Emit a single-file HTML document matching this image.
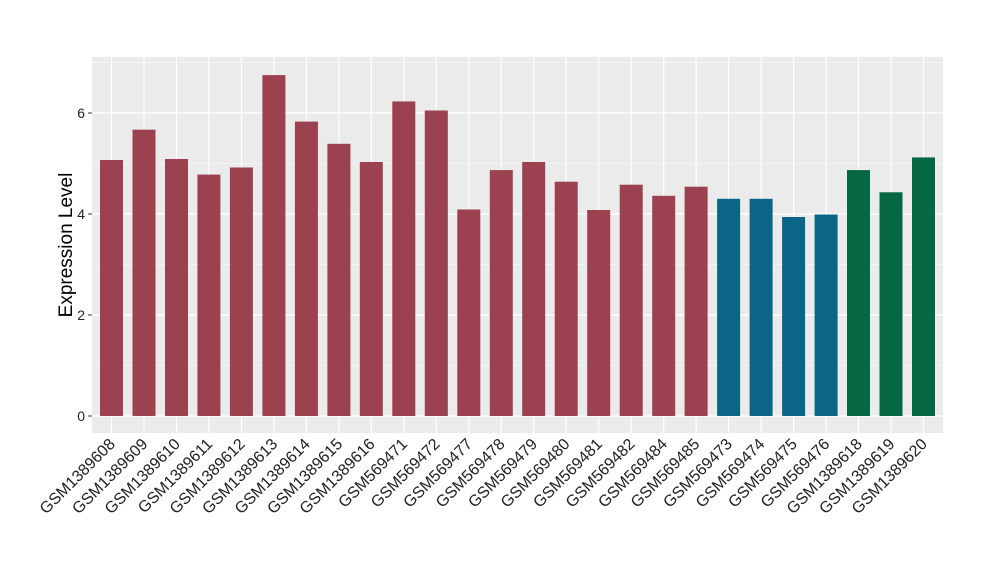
<!DOCTYPE html><html><head><style>body{margin:0;background:#fff}</style></head><body>
<svg width="1000" height="580" xmlns="http://www.w3.org/2000/svg" font-family="Liberation Sans, sans-serif">
<rect x="92" y="57" width="851" height="376" fill="#ebebeb"/>
<g stroke="#fff" stroke-width="0.6">
<line x1="92" x2="943" y1="365.5" y2="365.5"/><line x1="92" x2="943" y1="264.5" y2="264.5"/><line x1="92" x2="943" y1="163.5" y2="163.5"/><line x1="92" x2="943" y1="62.5" y2="62.5"/>
</g>
<g stroke="#fff" stroke-width="1.2">
<line x1="92" x2="943" y1="416" y2="416"/><line x1="92" x2="943" y1="315" y2="315"/><line x1="92" x2="943" y1="214" y2="214"/><line x1="92" x2="943" y1="113" y2="113"/>
<line x1="111.5" x2="111.5" y1="57" y2="433"/><line x1="144" x2="144" y1="57" y2="433"/><line x1="176.5" x2="176.5" y1="57" y2="433"/><line x1="208.9" x2="208.9" y1="57" y2="433"/><line x1="241.4" x2="241.4" y1="57" y2="433"/><line x1="273.9" x2="273.9" y1="57" y2="433"/><line x1="306.4" x2="306.4" y1="57" y2="433"/><line x1="338.9" x2="338.9" y1="57" y2="433"/><line x1="371.3" x2="371.3" y1="57" y2="433"/><line x1="403.8" x2="403.8" y1="57" y2="433"/><line x1="436.3" x2="436.3" y1="57" y2="433"/><line x1="468.8" x2="468.8" y1="57" y2="433"/><line x1="501.3" x2="501.3" y1="57" y2="433"/><line x1="533.7" x2="533.7" y1="57" y2="433"/><line x1="566.2" x2="566.2" y1="57" y2="433"/><line x1="598.7" x2="598.7" y1="57" y2="433"/><line x1="631.2" x2="631.2" y1="57" y2="433"/><line x1="663.7" x2="663.7" y1="57" y2="433"/><line x1="696.1" x2="696.1" y1="57" y2="433"/><line x1="728.6" x2="728.6" y1="57" y2="433"/><line x1="761.1" x2="761.1" y1="57" y2="433"/><line x1="793.6" x2="793.6" y1="57" y2="433"/><line x1="826.1" x2="826.1" y1="57" y2="433"/><line x1="858.5" x2="858.5" y1="57" y2="433"/><line x1="891" x2="891" y1="57" y2="433"/><line x1="923.5" x2="923.5" y1="57" y2="433"/>
</g>
<g fill="#9b4150">
<rect x="100" y="160" width="23" height="256"/>
<rect x="132.5" y="129.7" width="23" height="286.3"/>
<rect x="165" y="159" width="23" height="257"/>
<rect x="197.4" y="174.6" width="23" height="241.4"/>
<rect x="229.9" y="167.5" width="23" height="248.5"/>
<rect x="262.4" y="75.1" width="23" height="340.9"/>
<rect x="294.9" y="121.6" width="23" height="294.4"/>
<rect x="327.4" y="143.8" width="23" height="272.2"/>
<rect x="359.8" y="162" width="23" height="254"/>
<rect x="392.3" y="101.4" width="23" height="314.6"/>
<rect x="424.8" y="110.5" width="23" height="305.5"/>
<rect x="457.3" y="209.5" width="23" height="206.5"/>
<rect x="489.8" y="170.1" width="23" height="245.9"/>
<rect x="522.2" y="162" width="23" height="254"/>
<rect x="554.7" y="181.7" width="23" height="234.3"/>
<rect x="587.2" y="210" width="23" height="206"/>
<rect x="619.7" y="184.7" width="23" height="231.3"/>
<rect x="652.2" y="195.8" width="23" height="220.2"/>
<rect x="684.6" y="186.7" width="23" height="229.3"/>
</g>
<g fill="#0b6587">
<rect x="717.1" y="198.8" width="23" height="217.2"/>
<rect x="749.6" y="198.8" width="23" height="217.2"/>
<rect x="782.1" y="217" width="23" height="199"/>
<rect x="814.6" y="214.5" width="23" height="201.5"/>
</g>
<g fill="#066843">
<rect x="847" y="170.1" width="23" height="245.9"/>
<rect x="879.5" y="192.3" width="23" height="223.7"/>
<rect x="912" y="157.4" width="23" height="258.6"/>
</g>
<g stroke="#333">
<line x1="88" x2="92" y1="416" y2="416"/><line x1="88" x2="92" y1="315" y2="315"/><line x1="88" x2="92" y1="214" y2="214"/><line x1="88" x2="92" y1="113" y2="113"/>
</g>
<g font-size="14" text-anchor="end" fill="#222">
<text x="85" y="421">0</text><text x="85" y="320">2</text><text x="85" y="219">4</text><text x="85" y="118">6</text>
</g>
<g font-size="16" text-anchor="end" fill="#222">
<text transform="translate(116,445) rotate(-45)">GSM1389608</text>
<text transform="translate(148.5,445) rotate(-45)">GSM1389609</text>
<text transform="translate(181,445) rotate(-45)">GSM1389610</text>
<text transform="translate(213.4,445) rotate(-45)">GSM1389611</text>
<text transform="translate(245.9,445) rotate(-45)">GSM1389612</text>
<text transform="translate(278.4,445) rotate(-45)">GSM1389613</text>
<text transform="translate(310.9,445) rotate(-45)">GSM1389614</text>
<text transform="translate(343.4,445) rotate(-45)">GSM1389615</text>
<text transform="translate(375.8,445) rotate(-45)">GSM1389616</text>
<text transform="translate(408.3,445) rotate(-45)">GSM569471</text>
<text transform="translate(440.8,445) rotate(-45)">GSM569472</text>
<text transform="translate(473.3,445) rotate(-45)">GSM569477</text>
<text transform="translate(505.8,445) rotate(-45)">GSM569478</text>
<text transform="translate(538.2,445) rotate(-45)">GSM569479</text>
<text transform="translate(570.7,445) rotate(-45)">GSM569480</text>
<text transform="translate(603.2,445) rotate(-45)">GSM569481</text>
<text transform="translate(635.7,445) rotate(-45)">GSM569482</text>
<text transform="translate(668.2,445) rotate(-45)">GSM569484</text>
<text transform="translate(700.6,445) rotate(-45)">GSM569485</text>
<text transform="translate(733.1,445) rotate(-45)">GSM569473</text>
<text transform="translate(765.6,445) rotate(-45)">GSM569474</text>
<text transform="translate(798.1,445) rotate(-45)">GSM569475</text>
<text transform="translate(830.6,445) rotate(-45)">GSM569476</text>
<text transform="translate(863,445) rotate(-45)">GSM1389618</text>
<text transform="translate(895.5,445) rotate(-45)">GSM1389619</text>
<text transform="translate(928,445) rotate(-45)">GSM1389620</text>
</g>
<text transform="translate(72,245) rotate(-90)" font-size="19" text-anchor="middle" fill="#000">Expression Level</text>
</svg></body></html>
